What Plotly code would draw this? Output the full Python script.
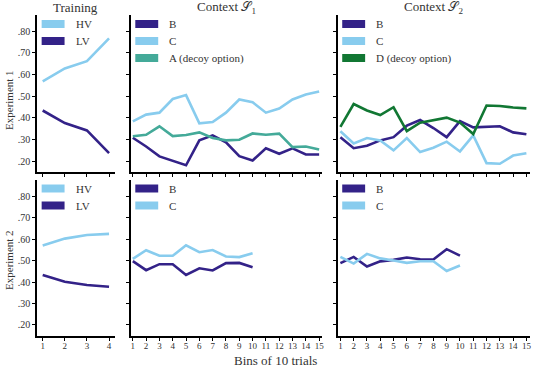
import plotly.graph_objects as go

W, H = 536, 368

# ---------------- data ----------------
train_bins = [1, 2, 3, 4]
bins15 = list(range(1, 16))
bins10 = list(range(1, 11))

exp1_train_HV = [0.569, 0.628, 0.662, 0.767]
exp1_train_LV = [0.434, 0.376, 0.342, 0.237]

exp1_s1_B = [0.308, 0.268, 0.222, 0.203, 0.181, 0.296, 0.319, 0.287, 0.223, 0.203, 0.260, 0.234, 0.259, 0.231, 0.231]
exp1_s1_C = [0.384, 0.415, 0.424, 0.487, 0.505, 0.375, 0.381, 0.424, 0.485, 0.472, 0.424, 0.443, 0.485, 0.508, 0.522]
exp1_s1_A = [0.315, 0.322, 0.361, 0.316, 0.321, 0.333, 0.307, 0.296, 0.299, 0.328, 0.322, 0.327, 0.265, 0.268, 0.254]

exp1_s2_B = [0.311, 0.260, 0.271, 0.296, 0.311, 0.364, 0.390, 0.353, 0.311, 0.385, 0.356, 0.359, 0.361, 0.333, 0.324]
exp1_s2_C = [0.338, 0.282, 0.307, 0.296, 0.250, 0.307, 0.242, 0.262, 0.290, 0.245, 0.319, 0.191, 0.188, 0.226, 0.237]
exp1_s2_D = [0.358, 0.464, 0.434, 0.413, 0.449, 0.339, 0.378, 0.389, 0.401, 0.378, 0.325, 0.457, 0.455, 0.448, 0.444]

exp2_train_HV = [0.570, 0.602, 0.619, 0.624]
exp2_train_LV = [0.433, 0.401, 0.386, 0.378]

exp2_s1_B = [0.497, 0.455, 0.483, 0.483, 0.433, 0.464, 0.454, 0.488, 0.489, 0.469]
exp2_s1_C = [0.508, 0.548, 0.522, 0.522, 0.571, 0.539, 0.549, 0.519, 0.516, 0.534]

exp2_s2_B = [0.488, 0.517, 0.472, 0.496, 0.503, 0.514, 0.506, 0.505, 0.553, 0.523]
exp2_s2_C = [0.517, 0.486, 0.531, 0.510, 0.500, 0.489, 0.497, 0.497, 0.451, 0.477]

y_tickvals = [0.2, 0.3, 0.4, 0.5, 0.6, 0.7, 0.8]
y_ticktext = [".20", ".30", ".40", ".50", ".60", ".70", ".80"]

col_titles = ["Training", "Context 𝒮<sub>1</sub>", "Context 𝒮<sub>2</sub>"]
row_titles = ["Experiment 1", "Experiment 2"]
x_title = "Bins of 10 trials"

INDIGO = "#332288"
CYAN = "#88CCEE"
TEAL = "#44AA99"
GREEN = "#117733"
TEXT = "#333333"

# ---------------- layout geometry (pixels) ----------------
def px_x(p):
    return p / W

def px_y(p):
    return 1 - p / H

col_px = [(37.3, 115.0), (131.3, 323.0), (339.0, 531.7)]
row_px = [(15.0, 172.0), (180.0, 335.7)]
x_ranges = [[0.75, 4.25], [0.85, 15.2], [0.8, 15.25]]
y_range = [0.15, 0.875]

FONT = '"Liberation Serif", "Times New Roman", serif'

fig = go.Figure()

panels = [
    (0, 0, [(train_bins, exp1_train_HV, CYAN, "HV"), (train_bins, exp1_train_LV, INDIGO, "LV")]),
    (0, 1, [(bins15, exp1_s1_B, INDIGO, "B"), (bins15, exp1_s1_C, CYAN, "C"), (bins15, exp1_s1_A, TEAL, "A (decoy option)")]),
    (0, 2, [(bins15, exp1_s2_B, INDIGO, "B"), (bins15, exp1_s2_C, CYAN, "C"), (bins15, exp1_s2_D, GREEN, "D (decoy option)")]),
    (1, 0, [(train_bins, exp2_train_HV, CYAN, "HV"), (train_bins, exp2_train_LV, INDIGO, "LV")]),
    (1, 1, [(bins10, exp2_s1_B, INDIGO, "B"), (bins10, exp2_s1_C, CYAN, "C")]),
    (1, 2, [(bins10, exp2_s2_B, INDIGO, "B"), (bins10, exp2_s2_C, CYAN, "C")]),
]

shapes = []
annotations = []
idx = 0
for r, c, series in panels:
    idx += 1
    xa = "xaxis" if idx == 1 else f"xaxis{idx}"
    ya = "yaxis" if idx == 1 else f"yaxis{idx}"
    xref = "x" if idx == 1 else f"x{idx}"
    yref = "y" if idx == 1 else f"y{idx}"
    x0, x1 = col_px[c]
    y0, y1 = row_px[r]
    for xs, ys, color, name in series:
        fig.add_trace(go.Scatter(x=xs, y=ys, mode="lines", line=dict(color=color, width=2.6),
                                 name=name, showlegend=False, xaxis=xref, yaxis=yref,
                                 hoverinfo="skip"))
    xticks = list(range(1, 5)) if c == 0 else list(range(1, 16))
    fig.layout[xa] = dict(
        domain=[px_x(x0), px_x(x1)], anchor=yref, range=x_ranges[c],
        tickvals=xticks, ticktext=[str(t) for t in xticks],
        showticklabels=(r == 1), ticks="outside", ticklen=3, tickwidth=1, tickcolor="black",
        ticklabelstandoff=-3,
        showline=True, linecolor="black", linewidth=2, showgrid=False, zeroline=False,
        tickfont=dict(family=FONT, size=9, color=TEXT),
    )
    fig.layout[ya] = dict(
        domain=[px_y(y1), px_y(y0)], anchor=xref, range=y_range,
        tickvals=y_tickvals, ticktext=y_ticktext,
        showticklabels=(c == 0), ticks="outside", ticklen=3, tickwidth=1, tickcolor="black",
        showline=True, linecolor="black", linewidth=2, showgrid=False, zeroline=False,
        tickfont=dict(family=FONT, size=10, color=TEXT),
    )
    # manual legend
    sw_x0 = x0 + 4.5
    sw_x1 = sw_x0 + 23
    top = y0 + 9 if r == 0 else y0 + 8.5
    for k, (xs, ys, color, name) in enumerate(series):
        yc = top + k * 17
        shapes.append(dict(type="rect", xref="paper", yref="paper",
                           x0=px_x(sw_x0), x1=px_x(sw_x1), y0=px_y(yc + 4), y1=px_y(yc - 4),
                           fillcolor=color, line=dict(width=0)))
        annotations.append(dict(xref="paper", yref="paper", x=px_x(sw_x1 + 9), y=px_y(yc),
                                text=name, showarrow=False, xanchor="left", yanchor="middle",
                                font=dict(family=FONT, size=11, color=TEXT)))

for c, t in enumerate(col_titles):
    x0, x1 = col_px[c]
    annotations.append(dict(xref="paper", yref="paper", x=px_x((x0 + x1) / 2), y=px_y(8),
                            text=t, showarrow=False, xanchor="center", yanchor="middle",
                            font=dict(family=FONT, size=13, color=TEXT)))

row_centers = [100, 260]
for r, t in enumerate(row_titles):
    annotations.append(dict(xref="paper", yref="paper", x=px_x(9), y=px_y(row_centers[r]),
                            text=t, showarrow=False, textangle=-90, xanchor="center", yanchor="middle",
                            font=dict(family=FONT, size=11, color=TEXT)))

annotations.append(dict(xref="paper", yref="paper", x=px_x(276.7), y=px_y(360),
                        text=x_title, showarrow=False, xanchor="center", yanchor="middle",
                        font=dict(family=FONT, size=13, color=TEXT)))

fig.update_layout(
    width=W, height=H, margin=dict(l=0, r=0, t=0, b=0),
    paper_bgcolor="white", plot_bgcolor="white",
    shapes=shapes, annotations=annotations, showlegend=False,
    font=dict(family=FONT, color=TEXT),
)

fig.write_html("out.html", config={"displayModeBar": False},
               post_script="document.body.style.margin='0';document.body.style.overflow='hidden';")
